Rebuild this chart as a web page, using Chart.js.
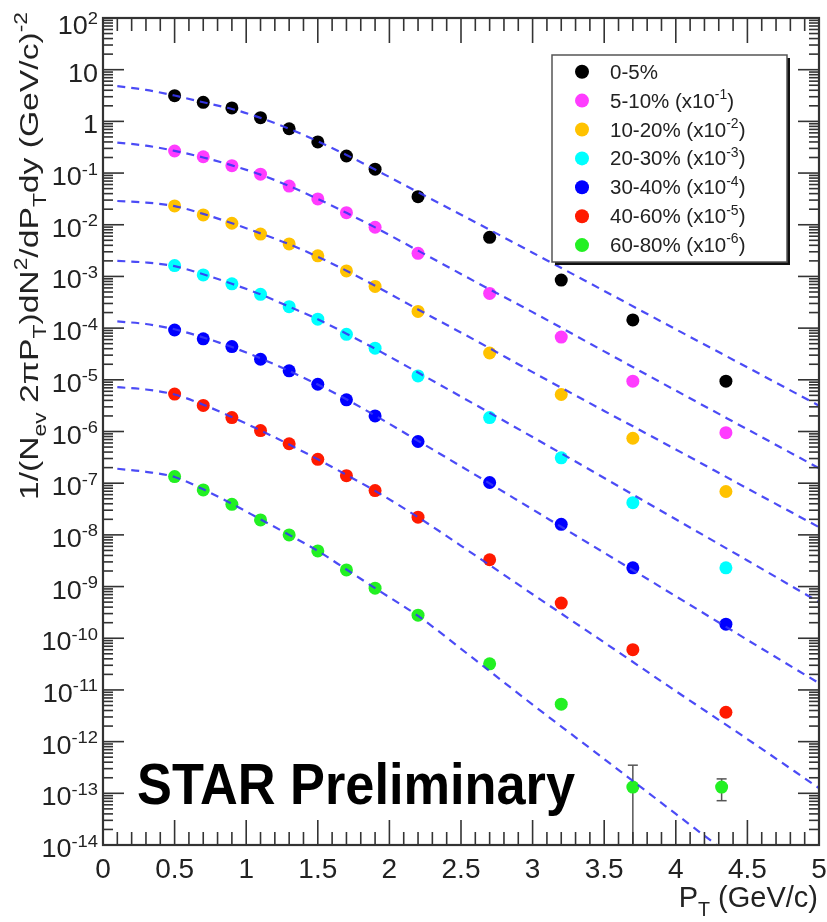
<!DOCTYPE html>
<html>
<head>
<meta charset="utf-8">
<script src="https://cdn.jsdelivr.net/npm/chart.js@4.4.1/dist/chart.umd.min.js"></script>
<style>
  body { margin: 0; background: #fff; }
  canvas { display: block; }
</style>
</head>
<body>
<canvas id="spectra" width="827" height="922"></canvas>
<script>
// transverse momentum of the measured points and of the sampled fit curves
const ptData = [0.5, 0.7, 0.9, 1.1, 1.3, 1.5, 1.7, 1.9, 2.2, 2.7, 3.2, 3.7, 4.35];
const ptData60to80 = [0.5, 0.7, 0.9, 1.1, 1.3, 1.5, 1.7, 1.9, 2.2, 2.7, 3.2, 3.7, 4.32];
const ptFit = [0.1, 0.3, 0.5, 0.7, 0.9, 1.1, 1.3, 1.5, 1.7, 1.9, 2.2, 2.6, 3.0, 3.5, 4.0, 4.5, 5.0];

// measured yields (already scaled as in the legend)
const yield0to5   = [3.14, 2.34, 1.82, 1.18, 0.72, 0.40, 0.214, 0.119, 0.035, 5.7e-3, 8.5e-4, 1.44e-4, 9.4e-6];
const yield5to10  = [0.267, 0.207, 0.139, 0.095, 0.056, 0.0316, 0.0171, 8.95e-3, 2.8e-3, 4.7e-4, 6.7e-5, 9.4e-6, 9.5e-7];
const yield10to20 = [0.0231, 0.0155, 0.0107, 6.6e-3, 4.25e-3, 2.5e-3, 1.28e-3, 6.4e-4, 2.1e-4, 3.3e-5, 5.2e-6, 7.4e-7, 6.9e-8];
const yield20to30 = [1.62e-3, 1.07e-3, 7.2e-4, 4.5e-4, 2.6e-4, 1.49e-4, 7.6e-5, 4.1e-5, 1.19e-5, 1.86e-6, 3.1e-7, 4.2e-8, 2.3e-9];
const yield30to40 = [9.2e-5, 6.2e-5, 4.4e-5, 2.5e-5, 1.49e-5, 8.2e-6, 4.1e-6, 2.0e-6, 6.4e-7, 1.03e-7, 1.6e-8, 2.3e-9, 1.87e-10];
const yield40to60 = [5.3e-6, 3.2e-6, 1.86e-6, 1.04e-6, 5.8e-7, 2.9e-7, 1.4e-7, 7.2e-8, 2.2e-8, 3.3e-9, 4.8e-10, 6.0e-11, 3.7e-12];
const yield60to80 = [1.34e-7, 7.4e-8, 3.9e-8, 1.95e-8, 1.0e-8, 4.9e-9, 2.1e-9, 9.3e-10, 2.8e-10, 3.2e-11, 5.3e-12, 1.32e-13, 1.32e-13];

// dashed fit curves at ptFit
const fit0to5   = [4.79, 4.07, 3.16, 2.34, 1.74, 1.17, 0.72, 0.41, 0.224, 0.117, 0.0427, 0.0112, 2.88e-3, 5.25e-4, 9.5e-5, 1.74e-5, 3.16e-6];
const fit5to10  = [0.389, 0.339, 0.269, 0.200, 0.141, 0.0933, 0.0562, 0.0316, 0.0170, 8.9e-3, 3.16e-3, 7.9e-4, 2.04e-4, 3.55e-5, 6.2e-6, 1.1e-6, 1.95e-7];
const fit10to20 = [0.0288, 0.0269, 0.0229, 0.0162, 0.0107, 6.8e-3, 4.2e-3, 2.4e-3, 1.29e-3, 6.6e-4, 2.3e-4, 5.8e-5, 1.41e-5, 2.5e-6, 4.5e-7, 7.9e-8, 1.41e-8];
const fit20to30 = [2.0e-3, 1.86e-3, 1.58e-3, 1.10e-3, 7.2e-4, 4.5e-4, 2.6e-4, 1.48e-4, 7.8e-5, 4.0e-5, 1.38e-5, 3.3e-6, 7.8e-7, 1.26e-7, 2.0e-8, 3.2e-9, 5.0e-10];
const fit30to40 = [1.35e-4, 1.20e-4, 9.5e-5, 6.6e-5, 4.3e-5, 2.6e-5, 1.48e-5, 8.1e-6, 4.2e-6, 2.04e-6, 6.6e-7, 1.45e-7, 3.1e-8, 4.5e-9, 6.5e-10, 9.3e-11, 1.35e-11];
const fit40to60 = [7.2e-6, 6.5e-6, 5.2e-6, 3.3e-6, 1.9e-6, 1.05e-6, 5.6e-7, 2.9e-7, 1.45e-7, 7.1e-8, 2.2e-8, 4.0e-9, 7.1e-10, 8.3e-11, 9.5e-12, 1.12e-12, 1.26e-13];
const fit60to80 = [1.9e-7, 1.66e-7, 1.32e-7, 7.6e-8, 4.0e-8, 2.0e-8, 1.0e-8, 4.9e-9, 2.14e-9, 9.3e-10, 2.7e-10, 3.8e-11, 5.2e-12, 4.6e-13, 4.0e-14, 3.5e-15, 3.0e-16];

// the only visible error bars (60-80%, last two points)
const errPt60to80 = [3.7, 4.32];
const errLow60to80 = [1e-15, 7.2e-14];
const errHigh60to80 = [3.5e-13, 1.9e-13];

const centralityLabels = ['0-5%', '5-10%', '10-20%', '20-30%', '30-40%', '40-60%', '60-80%'];
const scaleExponents = [0, -1, -2, -3, -4, -5, -6];
const markerColors = ['#000000', '#ff3cff', '#ffc200', '#00ffff', '#0000ff', '#ff1a00', '#22f022'];

const xTickLabels = ['0', '0.5', '1', '1.5', '2', '2.5', '3', '3.5', '4', '4.5', '5'];
const yDecades = [-14, -13, -12, -11, -10, -9, -8, -7, -6, -5, -4, -3, -2, -1, 0, 1, 2];

const FONT = "'Liberation Sans', Arial, Helvetica, sans-serif";
const FIT_COLOR = 'rgba(55, 55, 245, 0.9)';

const series = [
    { pt: ptData, y: yield0to5, fit: fit0to5 },
    { pt: ptData, y: yield5to10, fit: fit5to10 },
    { pt: ptData, y: yield10to20, fit: fit10to20 },
    { pt: ptData, y: yield20to30, fit: fit20to30 },
    { pt: ptData, y: yield30to40, fit: fit30to40 },
    { pt: ptData, y: yield40to60, fit: fit40to60 },
    { pt: ptData60to80, y: yield60to80, fit: fit60to80 }
];

const datasets = [];
series.forEach((s, i) => {
    datasets.push({
        type: 'line',
        label: centralityLabels[i] + ' fit',
        data: ptFit.map((p, j) => ({ x: p, y: s.fit[j] })),
        borderColor: FIT_COLOR,
        borderWidth: 2.2,
        borderDash: [8, 6],
        pointRadius: 0,
        cubicInterpolationMode: 'monotone',
        fill: false,
        order: 0
    });
    datasets.push({
        type: 'scatter',
        label: centralityLabels[i],
        data: s.pt.map((p, j) => ({ x: p, y: s.y[j] })),
        backgroundColor: markerColors[i],
        borderWidth: 0,
        pointRadius: 6.5,
        order: 1
    });
});

// text with sub/superscripts, optionally rotated or stretched
function drawRich(ctx, parts, x, y, o) {
    const size = o.size;
    const small = size * 0.68;
    const weight = o.bold ? 'bold ' : '';
    const fontOf = k => weight + (k === 'n' ? size : small) + 'px ' + FONT;
    let w = 0;
    for (const [t, k] of parts) {
        ctx.font = fontOf(k);
        w += ctx.measureText(t).width;
    }
    let sx = o.sx || 1;
    if (o.fitWidth) sx = o.fitWidth / w;
    ctx.save();
    ctx.translate(x, y);
    if (o.rotate) ctx.rotate(o.rotate);
    ctx.scale(sx, o.sy || 1);
    ctx.fillStyle = o.color || '#222';
    ctx.textAlign = 'left';
    ctx.textBaseline = 'alphabetic';
    let cx = o.align === 'right' ? -w : o.align === 'center' ? -w / 2 : 0;
    for (const [t, k] of parts) {
        ctx.font = fontOf(k);
        const dy = k === 'sup' ? -0.42 * size : k === 'sub' ? 0.3 * size : 0;
        ctx.fillText(t, cx, dy);
        cx += ctx.measureText(t).width;
    }
    ctx.restore();
}

function line(ctx, x1, y1, x2, y2) {
    ctx.beginPath();
    ctx.moveTo(x1, y1);
    ctx.lineTo(x2, y2);
    ctx.stroke();
}

const rootFrame = {
    id: 'rootFrame',
    beforeDatasetsDraw(chart) {
        const { ctx, chartArea: a, scales: { x, y } } = chart;
        ctx.save();
        ctx.beginPath();
        ctx.rect(a.left, a.top, a.right - a.left, a.bottom - a.top);
        ctx.clip();
        ctx.strokeStyle = '#555';
        ctx.lineWidth = 1.5;
        errPt60to80.forEach((p, i) => {
            const px = x.getPixelForValue(p);
            const lo = y.getPixelForValue(errLow60to80[i]);
            const hi = y.getPixelForValue(errHigh60to80[i]);
            line(ctx, px, lo, px, hi);
            line(ctx, px - 5, lo, px + 5, lo);
            line(ctx, px - 5, hi, px + 5, hi);
        });
        ctx.restore();
    },
    afterDraw(chart) {
        const { ctx, chartArea: a, scales: { x, y } } = chart;
        ctx.save();
        ctx.strokeStyle = '#333';
        ctx.lineWidth = 1.6;

        // x ticks, bottom and top, pointing inward
        for (let i = 0; i <= 50; i++) {
            const px = x.getPixelForValue(i / 10);
            const len = i % 5 === 0 ? 25 : 13;
            line(ctx, px, a.bottom, px, a.bottom - len);
            line(ctx, px, a.top, px, a.top + len);
        }
        // y ticks, left and right
        for (const e of yDecades) {
            for (let k = 1; k <= 9; k++) {
                if (e === 2 && k > 1) break;
                const py = y.getPixelForValue(Number(k + 'e' + e));
                const len = k === 1 ? 21 : 10;
                line(ctx, a.left, py, a.left + len, py);
                line(ctx, a.right, py, a.right - len, py);
            }
        }
        ctx.lineWidth = 2.2;
        ctx.strokeRect(a.left, a.top, a.right - a.left, a.bottom - a.top);

        // tick labels
        xTickLabels.forEach(t => {
            drawRich(ctx, [[t, 'n']], x.getPixelForValue(Number(t)), 878, { size: 28, align: 'center' });
        });
        yDecades.forEach(e => {
            const parts = e === 0 ? [['1', 'n']] : e === 1 ? [['10', 'n']] : [['10', 'n'], [String(e), 'sup']];
            const py = y.getPixelForValue(Number('1e' + e)) + (e === 2 ? 7 : 3) + 0.36 * 25;
            drawRich(ctx, parts, 98, py, { size: 25, sx: 1.08, align: 'right' });
        });

        // axis titles
        drawRich(ctx, [['P', 'n'], ['T', 'sub'], [' (GeV/c)', 'n']], 818, 907, { size: 29, align: 'right' });
        drawRich(ctx, [
            ['1/(N', 'n'], ['ev', 'sub'], [' 2\u03c0P', 'n'], ['T', 'sub'], [')dN', 'n'], ['2', 'sup'],
            ['/dP', 'n'], ['T', 'sub'], ['dy (GeV/c)', 'n'], ['-2', 'sup']
        ], 38, 500, { size: 26, rotate: -Math.PI / 2, fitWidth: 488 });

        // STAR Preliminary
        drawRich(ctx, [['STAR Preliminary', 'n']], 137, 804, { size: 53, bold: true, sy: 1.08, fitWidth: 438, color: '#000' });

        // legend box with shadow
        const lx = 552, ly = 55, lw = 235, lh = 207;
        ctx.fillStyle = '#111';
        ctx.fillRect(lx + 3, ly + 3, lw, lh);
        ctx.fillStyle = '#fff';
        ctx.fillRect(lx, ly, lw, lh);
        ctx.strokeStyle = '#555';
        ctx.lineWidth = 1.5;
        ctx.strokeRect(lx, ly, lw, lh);
        centralityLabels.forEach((lab, i) => {
            const cy = 71.7 + i * 28.9;
            ctx.fillStyle = markerColors[i];
            ctx.beginPath();
            ctx.arc(582, cy, 7, 0, Math.PI * 2);
            ctx.fill();
            const parts = scaleExponents[i] === 0
                ? [[lab, 'n']]
                : [[lab + ' (x10', 'n'], [String(scaleExponents[i]), 'sup'], [')', 'n']];
            drawRich(ctx, parts, 610, cy + 7, { size: 20.5 });
        });
        ctx.restore();
    }
};

const ctx = document.getElementById('spectra').getContext('2d');
new Chart(ctx, {
    type: 'scatter',
    data: { datasets },
    options: {
        responsive: false,
        animation: false,
        devicePixelRatio: 1,
        layout: { padding: { top: 18, right: 8, left: 0, bottom: 0 } },
        plugins: { legend: { display: false }, tooltip: { enabled: false } },
        scales: {
            x: {
                type: 'linear', min: 0, max: 5,
                ticks: { display: false },
                grid: { display: false },
                border: { display: false },
                afterFit(s) { s.height = 77; }
            },
            y: {
                type: 'logarithmic', min: 1e-14, max: 100,
                ticks: { display: false },
                grid: { display: false },
                border: { display: false },
                afterFit(s) { s.width = 103; }
            }
        }
    },
    plugins: [rootFrame]
});
</script>
</body>
</html>
